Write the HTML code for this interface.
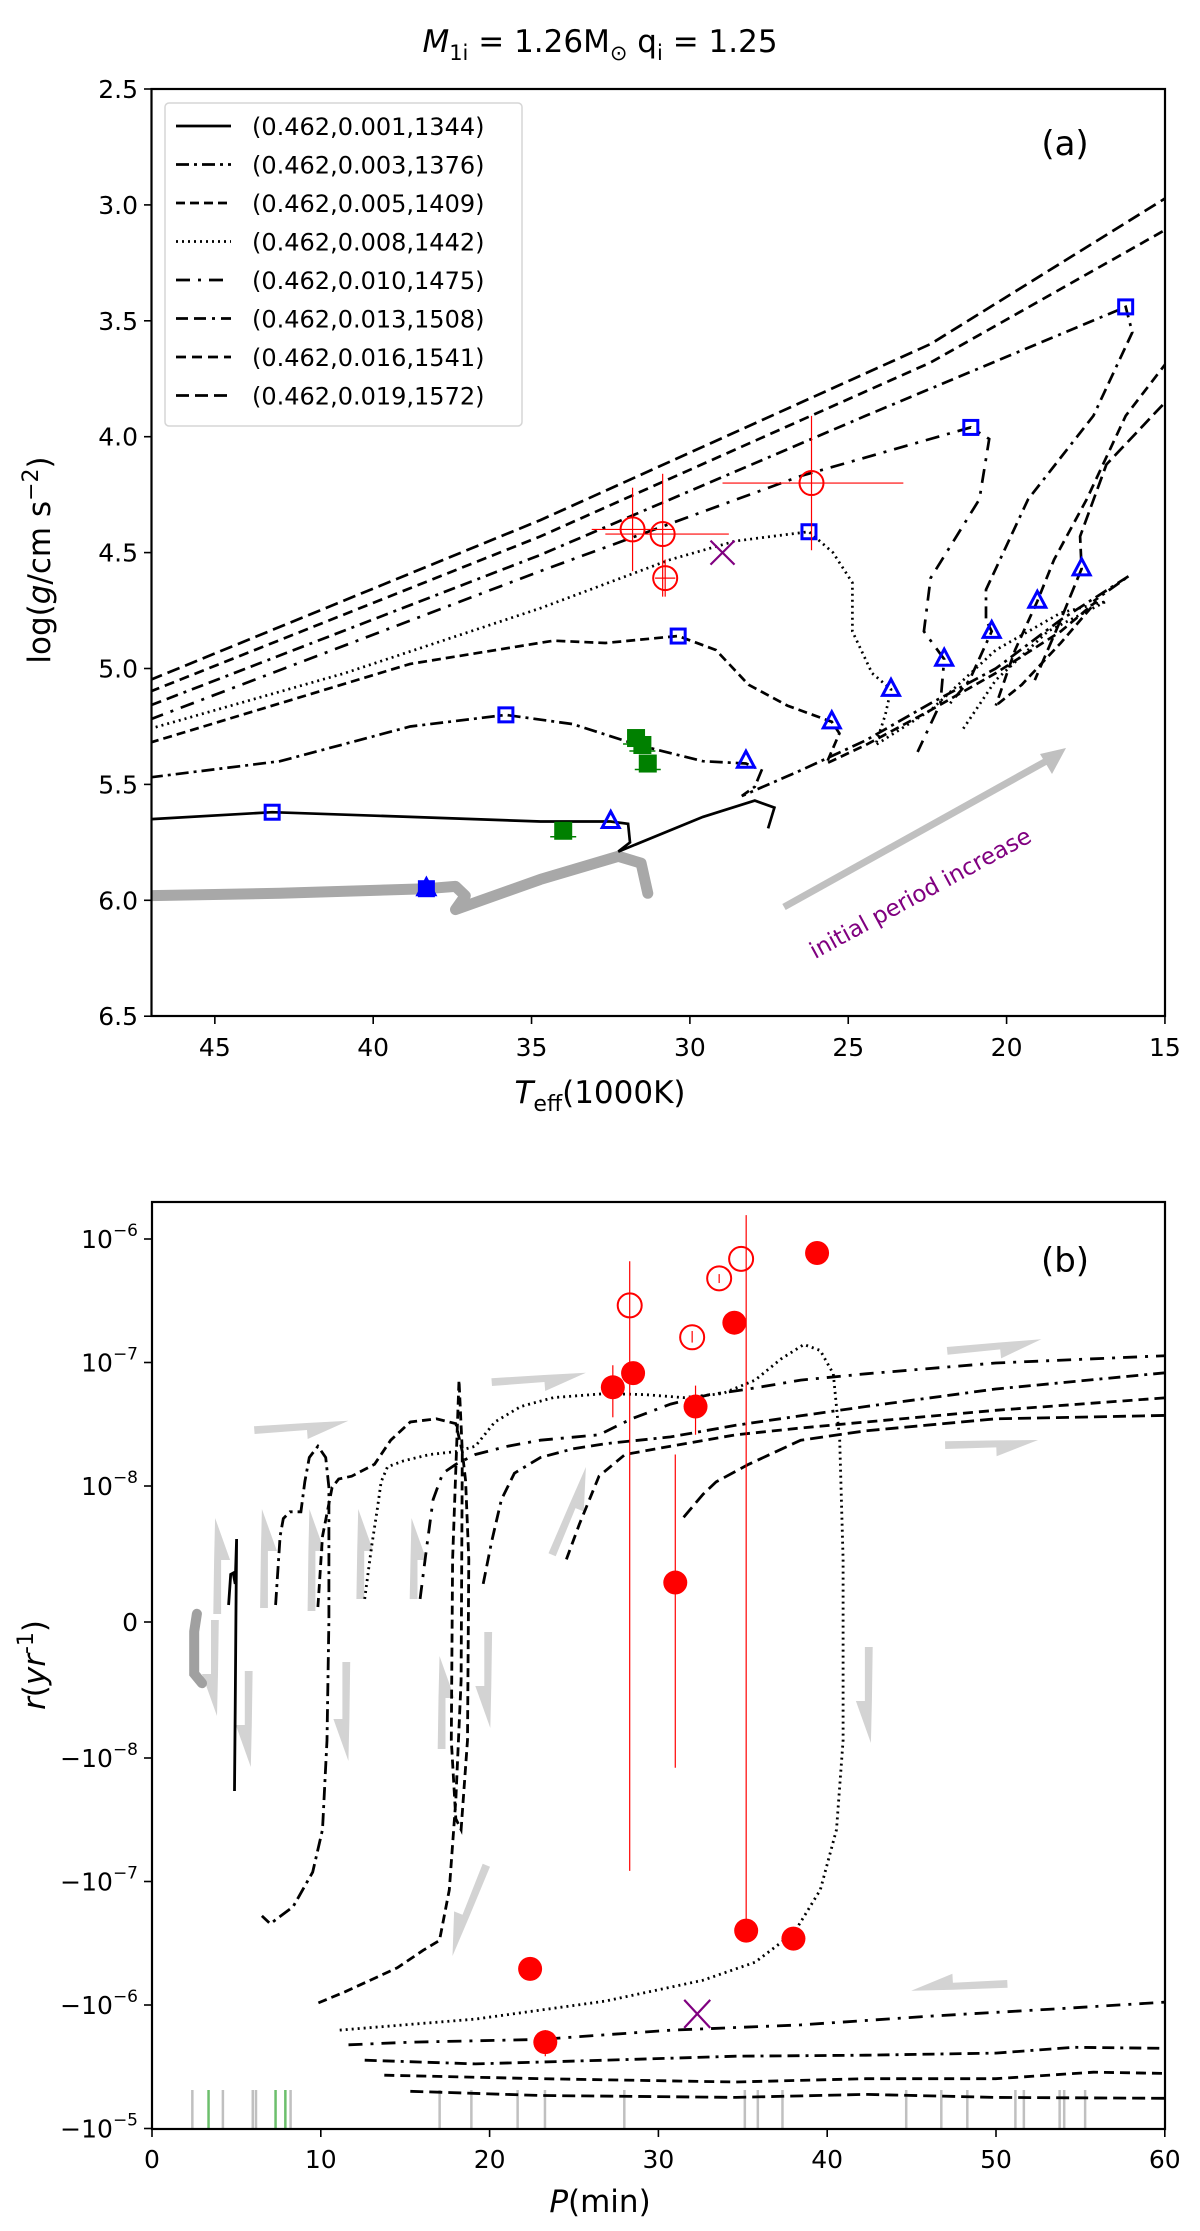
<!DOCTYPE html>
<html><head><meta charset="utf-8"><title>M1i=1.26 tracks</title>
<style>
html,body{margin:0;padding:0;background:#fff;}
svg{display:block;font-family:"DejaVu Sans","Liberation Sans",sans-serif;}
</style></head>
<body>
<svg id="fig" width="1200" height="2231" viewBox="0 0 1200 2231" xmlns="http://www.w3.org/2000/svg">
<defs>
<clipPath id="clipA"><rect x="151.5" y="89" width="1013.5" height="927"/></clipPath>
<clipPath id="clipB"><rect x="152" y="1202" width="1013" height="927"/></clipPath>
</defs>
<text x="600" y="52" text-anchor="middle" font-size="31"><tspan font-style="italic">M</tspan><tspan font-size="21" dy="8">1i</tspan><tspan dy="-8"> = 1.26M</tspan><tspan font-size="21" dy="8">⊙</tspan><tspan dy="-8"> q</tspan><tspan font-size="21" dy="8">i</tspan><tspan dy="-8"> = 1.25</tspan></text>
<g id="panelA"></g>
<g id="panelB"></g>
</svg>
<script>
// ---------- Panel (a) data: Teff (1000K), log g ----------
const labels = ["(0.462,0.001,1344)","(0.462,0.003,1376)","(0.462,0.005,1409)","(0.462,0.008,1442)","(0.462,0.010,1475)","(0.462,0.013,1508)","(0.462,0.016,1541)","(0.462,0.019,1572)"];
const dashes = ["", "13,5,3,5", "9,5", "2,4", "14,8,3,8", "12,6,12,6,3,6", "10,6", "13,6"];
const xTicksA = [45,40,35,30,25,20,15];
const yTicksA = [2.5,3.0,3.5,4.0,4.5,5.0,5.5,6.0,6.5];
const tA0 = [47.05,43.19,38.83,34.72,32.51,31.95,31.89,32.26,29.59,27.95,27.33,27.53];
const gA0 = [5.65,5.62,5.64,5.66,5.66,5.67,5.75,5.79,5.64,5.57,5.60,5.69];
const tA1 = [47.05,42.94,38.83,35.81,33.7,31.64,29.59,28.23,27.74,27.95,28.36,26.51,24.45,22.4,20.34,18.29,16.13,17.26];
const gA1 = [5.47,5.40,5.25,5.20,5.24,5.33,5.40,5.41,5.44,5.51,5.55,5.44,5.31,5.15,5.00,4.79,4.60,4.71];
const tA2 = [47.05,42.94,38.83,34.31,32.67,30.37,29.18,28.15,26.92,25.52,25.28,25.69,24.45,22.4,20.34,18.29,17.16,18.29,19.52,20.34];
const gA2 = [5.32,5.15,4.98,4.88,4.89,4.86,4.92,5.07,5.16,5.23,5.28,5.41,5.33,5.18,5.02,4.84,4.71,4.89,5.07,5.16];
const tA3 = [47.05,40.89,34.72,30.62,28.56,26.24,25.48,24.87,24.87,24.25,23.65,23.83,24.14,22.4,20.34,18.29,16.85,18.7,20.34,21.37];
const gA3 = [5.26,5.02,4.74,4.53,4.45,4.41,4.50,4.63,4.84,5.02,5.09,5.20,5.33,5.18,4.92,4.76,4.71,4.84,5.05,5.26];
const tA4 = [47.05,34.72,26.51,21.13,20.55,20.86,22.4,22.61,21.97,22.09,22.81];
const gA4 = [5.22,4.58,4.17,3.96,4.01,4.27,4.61,4.84,4.96,5.15,5.36];
const tA5 = [47.05,34.72,24.45,16.24,16.03,17.26,19.32,20.65,20.65,20.47,21.17,21.78];
const gA5 = [5.16,4.51,3.91,3.44,3.55,3.91,4.27,4.66,4.79,4.84,5.05,5.15];
const tA6 = [47.05,34.72,22.4,14.5,14.5,16.24,17.47,18.5,19.03,19.73,20.34];
const gA6 = [5.10,4.43,3.68,3.07,3.60,3.91,4.27,4.53,4.71,4.92,5.16];
const tA7 = [47.05,34.72,22.4,14.5,14.5,16.85,17.68,17.63,18.29,19.11];
const gA7 = [5.05,4.36,3.60,2.93,3.78,4.12,4.43,4.57,4.79,5.05];
const tGrey = [47.05,42.94,38.32,37.4,37.09,37.4,34.72,32.26,31.54,31.33];
const gGrey = [5.98,5.97,5.95,5.94,5.98,6.04,5.91,5.81,5.84,5.97];
const sqT = [43.19,35.81,30.37,26.24,21.13,16.24,38.32];
const sqG = [5.62,5.20,4.86,4.41,3.96,3.44,5.95];
const triT = [32.5,28.23,25.52,23.65,21.97,20.47,19.03,17.63,38.32];
const triG = [5.66,5.40,5.23,5.09,4.96,4.84,4.71,4.57,5.95];
const obsT = [31.81,30.86,30.78,26.16];
const obsG = [4.40,4.42,4.61,4.20];
const obsTlo = [33.1,32.67,31.1,28.97];
const obsThi = [30.5,28.77,30.46,23.26];
const obsGlo = [4.22,4.16,4.53,3.91];
const obsGhi = [4.58,4.69,4.69,4.49];
const grT = [31.7,31.5,31.33,34.0];
const grG = [5.30,5.33,5.41,5.70];
const xStarT = [28.97];
const xStarG = [4.50];

// ---------- Panel (b) data: P (min), r (1/yr) ----------
const xTicksB = [0,10,20,30,40,50,60];
const yTicksBexp = [-6,-7,-8,null,-8,-7,-6,-5];
const yTicksBval = [1e-6,1e-7,1e-8,0,-1e-8,-1e-7,-1e-6,-1e-5];
const pB0 = [4.54,4.66,4.81,4.93,5.01,4.97,4.93,4.89];
const rB0 = [1.25e-9,3.5e-9,3.6e-9,2.8e-9,6.1e-9,1.5e-10,-6.5e-9,-1.85e-8];
const pGreyB = [2.66,2.5,2.5,2.96];
const rGreyB = [6e-10,-7e-10,-3.8e-9,-4.5e-9];
const pB1 = [7.32,7.59,7.78,8.17,8.82,9.05,9.32,9.83,10.29,10.48,10.48,10.37,10.1,9.52,8.36,7.01,6.51];
const rB1 = [1.25e-9,6.3e-9,7.6e-9,8.1e-9,8.1e-9,1.08e-8,1.7e-8,2.1e-8,1.7e-8,9.9e-9,1.5e-10,-8.7e-9,-3.8e-8,-8.4e-8,-1.6e-7,-2.2e-7,-1.9e-7];
const pB2 = [9.83,10.1,10.67,11.06,11.83,13.18,14.14,15.3,16.84,18.0,18.38,18.58,18.77,18.69,18.31,18.0,17.73,17.81,18.19,18.38,18.31,18.0,17.61,17.03,16.07,14.53,11.45,9.71];
const rB2 = [1.1e-9,6.3e-9,9.9e-9,1.14e-8,1.2e-8,1.5e-8,2.35e-8,3.3e-8,3.5e-8,3.2e-8,1.9e-8,1.1e-8,4.6e-9,-8.7e-9,-3.8e-8,-3.1e-8,-8.7e-9,4.6e-9,7.2e-8,1.9e-8,-4.3e-9,-2.2e-8,-1.17e-7,-3.0e-7,-3.6e-7,-5.0e-7,-7.8e-7,-9.8e-7];
const pB3 = [12.6,12.99,13.37,13.57,13.95,14.91,16.46,18.0,19.16,20.31,21.85,23.78,26.86,29.18,31.49,33.8,35.73,37.27,38.62,39.59,40.36,40.74,40.94,40.94,40.55,39.59,38.04,35.73,32.65,26.86,19.16,11.06];
const rB3 = [1.7e-9,5.4e-9,8.5e-9,1.08e-8,1.43e-8,1.6e-8,1.8e-8,1.9e-8,2.1e-8,3.3e-8,4.4e-8,5.2e-8,5.6e-8,5.5e-8,5.2e-8,5.6e-8,7.2e-8,1.07e-7,1.4e-7,1.25e-7,8.1e-8,2.35e-8,4.6e-9,-8.7e-9,-3.8e-8,-1.17e-7,-2.6e-7,-4.5e-7,-6.3e-7,-9.3e-7,-1.3e-6,-1.6e-6];
const pB4 = [15.88,16.26,16.65,17.23,18.0,19.16,21.08,23.01,26.48,28.41,30.72,33.03,35.35,38.43,42.29,49.99,61];
const rB4 = [1.7e-9,5.4e-9,9e-9,1.27e-8,1.5e-8,1.8e-8,2.1e-8,2.35e-8,2.6e-8,3.5e-8,4.6e-8,5.5e-8,6.1e-8,7.2e-8,8.1e-8,9.9e-8,1.15e-7];
const pB5 = [19.62,20.12,20.7,21.47,23.01,24.94,26.86,30.72,34.58,38.43,42.29,49.99,61];
const rB5 = [2.8e-9,5.9e-9,9e-9,1.27e-8,1.7e-8,2.0e-8,2.2e-8,2.5e-8,3.1e-8,3.7e-8,4.4e-8,6.1e-8,8.5e-8];
const pB6 = [24.55,25.32,26.48,28.02,30.72,34.58,38.43,42.29,49.99,61];
const rB6 = [4.6e-9,7.2e-9,1.2e-8,1.8e-8,2.1e-8,2.6e-8,2.95e-8,3.3e-8,4.1e-8,5.3e-8];
const pB7 = [31.49,32.65,33.42,35.35,38.43,42.29,49.99,61];
const rB7 = [7.7e-9,9.4e-9,1.08e-8,1.5e-8,2.35e-8,2.8e-8,3.5e-8,3.75e-8];
const pL1 = [11.64,15.3,23.01,30.72,38.43,46.14,53.85,61];
const rL1 = [-2.1e-6,-2.0e-6,-1.9e-6,-1.6e-6,-1.45e-6,-1.23e-6,-1.07e-6,-9.3e-7];
const pL2 = [12.6,19.16,26.86,34.58,42.29,49.99,54.62,61];
const rL2 = [-2.8e-6,-3.0e-6,-2.8e-6,-2.6e-6,-2.55e-6,-2.45e-6,-2.2e-6,-2.25e-6];
const pL3 = [13.76,23.01,34.58,42.29,49.99,55.78,61];
const rL3 = [-3.7e-6,-3.95e-6,-4.2e-6,-3.95e-6,-3.95e-6,-3.5e-6,-3.6e-6];
const pL4 = [15.3,23.01,34.58,42.29,49.99,61];
const rL4 = [-5.0e-6,-5.4e-6,-5.6e-6,-5.3e-6,-5.6e-6,-5.7e-6];
const fillP = [39.4,34.5,28.5,27.3,32.2,31.0,35.2,38.0,22.4,23.3];
const fillR = [7.7e-7,2.1e-7,8.2e-8,6.3e-8,4.4e-8,2.9e-9,-2.5e-7,-2.9e-7,-5.1e-7,-2.0e-6];
const fillRlo = [7.7e-7,2.1e-7,6.8e-8,3.6e-8,2.6e-8,-1.2e-8,-2.5e-7,-2.9e-7,-4.3e-7,-1.6e-6];
const fillRhi = [7.7e-7,2.1e-7,1.0e-7,9.5e-8,6.5e-8,1.8e-8,1.56e-6,-2.9e-7,-6.0e-7,-2.6e-6];
const openP = [28.3,32.0,33.6,34.9];
const openR = [2.9e-7,1.6e-7,4.8e-7,6.9e-7];
const openRlo = [-8.2e-8,1.45e-7,4.4e-7,6.9e-7];
const openRhi = [6.6e-7,1.8e-7,5.2e-7,6.9e-7];
const xStarP = [32.3];
const xStarR = [-1.18e-6];
const knownP = [2.39,4.2,5.97,6.16,8.21,17.04,18.92,21.66,23.28,27.98,35.12,35.89,37.35,44.68,46.76,48.3,51.15,51.65,53.77,54.04,55.28];
const knownGreenP = [3.35,7.32,7.9];

// ---------- helpers ----------
const NS = "http://www.w3.org/2000/svg";
function mk(parent, tag, attrs){ const e=document.createElementNS(NS,tag); for(const k in attrs) e.setAttribute(k,attrs[k]); parent.appendChild(e); return e; }
const xa = t => 151.5 + (47 - t) * 31.67;
const ya = g => 89 + (g - 2.5) * 231.8;
const xb = p => 152 + p * 16.88;
function yb(r){ const a=Math.abs(r); let s; if(a<=1e-8) s=136*r/1e-8; else s=Math.sign(r)*(136+123.5*Math.log10(a/1e-8)); return 1622 - s; }
function pathD(xs, ys, fx, fy){ return xs.map((v,i)=>(i?"L":"M")+fx(v).toFixed(1)+","+fy(ys[i]).toFixed(1)).join(""); }

// ================= Panel A =================
const A = document.getElementById("panelA");
const plotA = mk(A,"g",{"clip-path":"url(#clipA)"});


const tracksA = [[tA0,gA0],[tA1,gA1],[tA2,gA2],[tA3,gA3],[tA4,gA4],[tA5,gA5],[tA6,gA6],[tA7,gA7]];
let gp = mk(plotA,"path",{d:pathD(tGrey,gGrey,xa,ya),fill:"none",stroke:"#a8a8a8","stroke-width":11,"stroke-linecap":"round","stroke-linejoin":"round"});


tracksA.forEach((tr,i)=>{
  const p = mk(plotA,"path",{d:pathD(tr[0],tr[1],xa,ya),fill:"none",stroke:"#000","stroke-width":2.7,"stroke-dasharray":dashes[i]});
  
  
});
let arrA = mk(plotA,"g",{});


mk(arrA,"line",{x1:784,y1:907,x2:1050,y2:759,stroke:"#c0c0c0","stroke-width":7});
mk(arrA,"polygon",{points:"1066,748 1040,754 1052,774",fill:"#c0c0c0"});
let tx = mk(plotA,"text",{x:0,y:0,"font-size":23,fill:"#800080",transform:"translate(924,900) rotate(-28.5)","text-anchor":"middle"});
tx.textContent="initial period increase";


sqT.forEach((t,i)=>{ const e=mk(plotA,"rect",{x:xa(t)-7,y:ya(sqG[i])-7,width:14,height:14,fill:i==6?"#0000ff":"none",stroke:"#0000ff","stroke-width":3});
  
   });
triT.forEach((t,i)=>{ const x=xa(t),y=ya(triG[i]); const e=mk(plotA,"polygon",{points:`${x},${y-10} ${x-8.5},${y+6} ${x+8.5},${y+6}`,fill:"none",stroke:"#0000ff","stroke-width":3});
  
   });
obsT.forEach((t,i)=>{ const x=xa(t),y=ya(obsG[i]);
  const g=mk(plotA,"g",{});
  
  
  mk(g,"line",{x1:xa(obsTlo[i]),x2:xa(obsThi[i]),y1:y,y2:y,stroke:"#ff0000","stroke-width":1.2});
  mk(g,"line",{x1:x,x2:x,y1:ya(obsGlo[i]),y2:ya(obsGhi[i]),stroke:"#ff0000","stroke-width":1.2});
  mk(g,"circle",{cx:x,cy:y,r:12,fill:"none",stroke:"#ff0000","stroke-width":2});
});
grT.forEach((t,i)=>{ const x=xa(t),y=ya(grG[i]);
  const g=mk(plotA,"g",{});
  
  
  mk(g,"line",{x1:x-13,x2:x+13,y1:y+6,y2:y+6,stroke:"#008000","stroke-width":1.5});
  mk(g,"rect",{x:x-9,y:y-9,width:18,height:18,fill:"#008000"});
});
xStarT.forEach((t,i)=>{ const x=xa(t),y=ya(xStarG[i]);
  const e=mk(plotA,"path",{d:`M${x-12},${y-12}L${x+12},${y+12}M${x-12},${y+12}L${x+12},${y-12}`,stroke:"#800080","stroke-width":2.2});
  
   });
let fa = mk(A,"rect",{x:151.5,y:89,width:1013.5,height:927,fill:"none",stroke:"#000","stroke-width":2.2});


xTicksA.forEach(t=>{ const x=xa(t); mk(A,"line",{x1:x,x2:x,y1:1016,y2:1024,stroke:"#000","stroke-width":1.6});
  const l=mk(A,"text",{x:x,y:1056,"font-size":25,"text-anchor":"middle"}); l.textContent=t;
  
   });
yTicksA.forEach(g=>{ const y=ya(g); mk(A,"line",{x1:144,x2:151.5,y1:y,y2:y,stroke:"#000","stroke-width":1.6});
  const l=mk(A,"text",{x:138,y:y+9,"font-size":25,"text-anchor":"end"}); l.textContent=g.toFixed(1);
  
   });
let xla = mk(A,"text",{x:600,y:1103,"font-size":31,"text-anchor":"middle"});
xla.innerHTML='<tspan font-style="italic">T</tspan><tspan font-size="22" dy="8">eff</tspan><tspan dy="-8">(1000K)</tspan>';


let yla = mk(A,"text",{x:0,y:0,"font-size":31,"text-anchor":"middle",transform:"translate(50,560) rotate(-90)"});
yla.innerHTML='log(<tspan font-style="italic">g</tspan>/cm s<tspan font-size="22" dy="-12">−2</tspan><tspan dy="12">)</tspan>';


let lab = mk(A,"text",{x:1065,y:155,"font-size":34,"text-anchor":"middle"}); lab.textContent="(a)";


const leg = mk(A,"g",{});


mk(leg,"rect",{x:165,y:103,width:357,height:323,rx:4,fill:"#fff","fill-opacity":0.85,stroke:"#d5d5d5","stroke-width":1.5});
labels.forEach((s,i)=>{ const y=126+i*38.5;
  const e=mk(leg,"g",{});
  
  
  mk(e,"line",{x1:176,x2:231,y1:y,y2:y,stroke:"#000","stroke-width":2.7,"stroke-dasharray":dashes[i]});
  const t=mk(e,"text",{x:252,y:y+9,"font-size":24}); t.textContent=s; });

// ================= Panel B =================
const B = document.getElementById("panelB");
const plotB = mk(B,"g",{"clip-path":"url(#clipB)"});


knownP.forEach(p=>{ const e=mk(plotB,"line",{x1:xb(p),x2:xb(p),y1:2090,y2:2129,stroke:"#c0c0c0","stroke-width":2.5});
  
   });
knownGreenP.forEach(p=>{ const e=mk(plotB,"line",{x1:xb(p),x2:xb(p),y1:2090,y2:2129,stroke:"#6cbf6c","stroke-width":2.5});
  
   });
const arrowsB = [[100,690,100,530],[172,680,172,515],[245,685,245,515],[320,665,320,515],[402,665,402,530],[445,915,445,760],[615,590,670,445],
 [103,700,103,860],[155,785,155,945],[305,770,305,935],[523,720,523,880],[1108,745,1108,905],[520,1110,465,1260],
 [160,380,305,368],[525,300,670,288],[1225,248,1370,232],[1222,405,1365,400],[1318,1310,1170,1318]];
arrowsB.forEach(a=>{ const x1=150+a[0]/1.537,y1=1200+a[1]*0.6,x2=150+a[2]/1.537,y2=1200+a[3]*0.6;
  const dx=x2-x1,dy=y2-y1,L=Math.hypot(dx,dy),ux=dx/L,uy=dy/L,nx=-uy,ny=ux,h=42,w=6,hw=15;
  const bx=x2-ux*h,by=y2-uy*h;
  const pts=[[x1+nx*w,y1+ny*w],[bx+nx*w,by+ny*w],[bx+nx*hw,by+ny*hw],[x2,y2],[bx-nx*1,by-ny*1],[x1-nx*w*0.3,y1-ny*w*0.3]];
  const e=mk(plotB,"polygon",{points:pts.map(q=>q[0].toFixed(1)+","+q[1].toFixed(1)).join(" "),fill:"#d3d3d3"});
  
   });
let gb = mk(plotB,"path",{d:pathD(pGreyB,rGreyB,xb,yb),fill:"none",stroke:"#a0a0a0","stroke-width":10,"stroke-linecap":"round"});


const tracksB = [[pB0,rB0,0],[pB1,rB1,1],[pB2,rB2,2],[pB3,rB3,3],[pB4,rB4,4],[pB5,rB5,5],[pB6,rB6,6],[pB7,rB7,7],[pL1,rL1,4],[pL2,rL2,5],[pL3,rL3,6],[pL4,rL4,7]];
tracksB.forEach(tr=>{ const p=mk(plotB,"path",{d:pathD(tr[0],tr[1],xb,yb),fill:"none",stroke:"#000","stroke-width":2.8,"stroke-dasharray":dashes[tr[2]]});
  
   });
openP.forEach((p,i)=>{ const x=xb(p);
  const g=mk(plotB,"g",{});
  
  
  mk(g,"line",{x1:x,x2:x,y1:yb(openRlo[i]),y2:yb(openRhi[i]),stroke:"#ff0000","stroke-width":1.2});
  mk(g,"circle",{cx:x,cy:yb(openR[i]),r:12,fill:"none",stroke:"#ff0000","stroke-width":2}); });
fillP.forEach((p,i)=>{ const x=xb(p);
  const g=mk(plotB,"g",{});
  
  
  mk(g,"line",{x1:x,x2:x,y1:yb(fillRlo[i]),y2:yb(fillRhi[i]),stroke:"#ff0000","stroke-width":1.2});
  mk(g,"circle",{cx:x,cy:yb(fillR[i]),r:12,fill:"#ff0000"}); });
xStarP.forEach((p,i)=>{ const x=xb(p),y=yb(xStarR[i]);
  const e=mk(plotB,"path",{d:`M${x-13},${y-14}L${x+13},${y+14}M${x-13},${y+14}L${x+13},${y-14}`,stroke:"#800080","stroke-width":2.2});
  
   });
let fb = mk(B,"rect",{x:152,y:1202,width:1013,height:927,fill:"none",stroke:"#000","stroke-width":2.2});


xTicksB.forEach(p=>{ const x=xb(p); mk(B,"line",{x1:x,x2:x,y1:2129,y2:2137,stroke:"#000","stroke-width":1.6});
  const l=mk(B,"text",{x:x,y:2168,"font-size":25,"text-anchor":"middle"}); l.textContent=p;
  
   });
yTicksBval.forEach((v,i)=>{ const y=yb(v); mk(B,"line",{x1:144,x2:152,y1:y,y2:y,stroke:"#000","stroke-width":1.6});
  const l=mk(B,"text",{x:138,y:y+9,"font-size":25,"text-anchor":"end"});
  if(yTicksBexp[i]===null) l.textContent="0";
  else l.innerHTML=(v<0?"−":"")+'10<tspan font-size="17" dy="-12">−'+Math.abs(yTicksBexp[i])+'</tspan>';
  
   });
let xlb = mk(B,"text",{x:600,y:2212,"font-size":31,"text-anchor":"middle"});
xlb.innerHTML='<tspan font-style="italic">P</tspan>(min)';


let ylb = mk(B,"text",{x:0,y:0,"font-size":31,"text-anchor":"middle",transform:"translate(45,1665) rotate(-90)"});
ylb.innerHTML='<tspan font-style="italic">r</tspan>(<tspan font-style="italic">yr</tspan><tspan font-size="22" dy="-12">-1</tspan><tspan dy="12">)</tspan>';


let lbb = mk(B,"text",{x:1065,y:1272,"font-size":34,"text-anchor":"middle"}); lbb.textContent="(b)";


</script>
</body></html>
